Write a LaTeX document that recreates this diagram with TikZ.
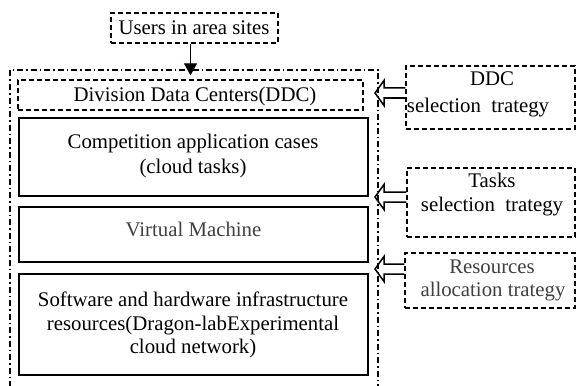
\documentclass[tikz,border=0pt]{standalone}
\usepackage{fontspec}
\setmainfont{Liberation Serif}
\usetikzlibrary{calc,arrows.meta}
\begin{document}
\begin{tikzpicture}[x=1pt,y=-1pt,
  txt/.style={font=\fontsize{20.8}{24}\selectfont, inner sep=0pt, anchor=base},
  graytxt/.style={txt, text=black!75},
  solidbox/.style={draw, line width=1.6pt, inner sep=0pt},
  dashbox/.style={draw, line width=1.3pt, dash pattern=on 5pt off 3pt, inner sep=0pt},
  outerbox/.style={draw, line width=1.3pt, dash pattern=on 6pt off 3pt on 1.5pt off 3pt},
  downarrow/.style={line width=1.3pt, -{Triangle[length=12pt,width=13pt]}},
  hollow/.style={line width=1.5pt, line join=miter,
    to path={let \p1=(\tikztostart), \p2=(\tikztotarget) in
      (\x1,\y1+5pt) -- (\x2+9pt,\y1+5pt) -- (\x2+9pt,\y1+12.5pt) -- (\x2,\y1)
      -- (\x2+9pt,\y1-12.5pt) -- (\x2+9pt,\y1-5pt) -- (\x1,\y1-5pt)}}
]
\useasboundingbox (0,0) rectangle (577,385);
\fill[white] (0,0) rectangle (577,385);
\begin{scope}
\clip (0,0) rectangle (577,385);
% outer dash-dot container
\node[outerbox, minimum width=368pt, minimum height=330pt, inner sep=0pt] (outer) at (194,235) {};
\end{scope}

% boxes
\node[dashbox, minimum width=167pt, minimum height=30pt] (users) at (194.5,28) {};
\node[dashbox, minimum width=345pt, minimum height=30pt] (ddc) at (190.5,95) {};
\node[solidbox, minimum width=349pt, minimum height=78pt] (comp) at (193.5,157) {};
\node[solidbox, minimum width=349pt, minimum height=55pt] (vm) at (193.5,234.5) {};
\node[solidbox, minimum width=349pt, minimum height=101pt] (sw) at (193.5,324.5) {};
\node[dashbox, minimum width=169pt, minimum height=63pt] (ddcsel) at (490.5,97.5) {};
\node[dashbox, minimum width=168pt, minimum height=69pt] (tasksel) at (491,202.5) {};
\node[dashbox, minimum width=170pt, minimum height=55pt] (ressel) at (490,280.5) {};

% texts
\node[txt] (tusers) at (194,35) {Users in area sites};
\node[txt] (tddc) at (195,101.7) {Division Data Centers(DDC)};
\node[txt] (tcomp1) at (193,148) {Competition application cases};
\node[txt] (tcomp2) at (193,173) {(cloud tasks)};
\node[graytxt] (tvm) at (193.5,236.7) {Virtual Machine};
\node[txt] (tsw1) at (193,306.7) {Software and hardware infrastructure};
\node[txt] (tsw2) at (193,330) {resources(Dragon-labExperimental};
\node[txt] (tsw3) at (193,353.3) {cloud network)};
\node[txt] (tds1) at (492,86) {DDC};
\node[txt] (tds2) at (478,112) {selection\ \ trategy};
\node[txt] (tts1) at (492,187) {Tasks};
\node[txt] (tts2) at (492,211.7) {selection\ \ trategy};
\node[graytxt] (trs1) at (492,273) {Resources};
\node[graytxt] (trs2) at (493,296.7) {allocation trategy};

% connectors
\draw[downarrow] (users.south -| ddc.north) -- ([yshift=4pt]ddc.north);
\coordinate (a1s) at (ddcsel.west |- 0,93);
\coordinate (a1t) at (375,93);
\coordinate (a2s) at (tasksel.west |- 0,197);
\coordinate (a2t) at (375,197);
\coordinate (a3s) at (ressel.west |- 0,269);
\coordinate (a3t) at (375,269);
\draw[hollow] (a1s) to (a1t);
\draw[hollow] (a2s) to (a2t);
\draw[hollow] (a3s) to (a3t);
\end{tikzpicture}
\end{document}
